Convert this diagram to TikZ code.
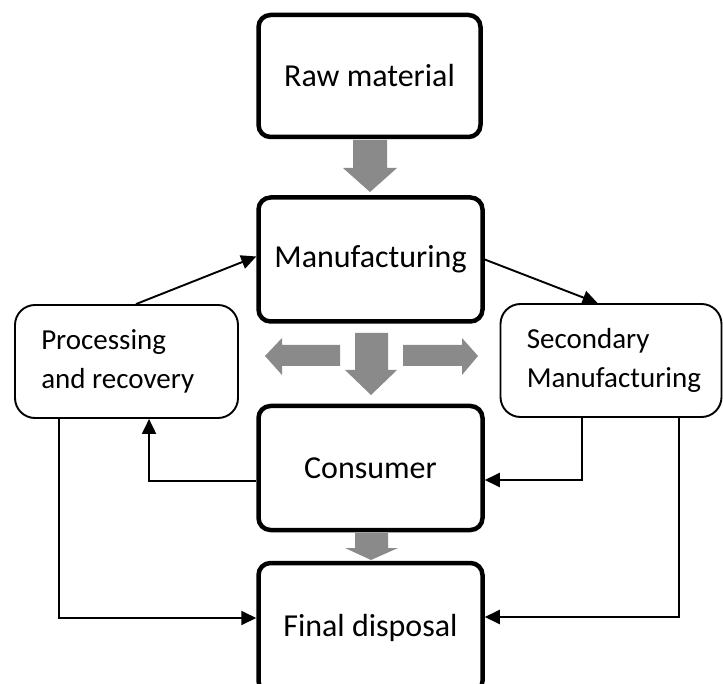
\documentclass[tikz,border=0pt]{standalone}
\usepackage{fontspec}
\setmainfont{Carlito}
\usetikzlibrary{arrows.meta,calc}
\definecolor{arrowgray}{RGB}{138,138,138}
\begin{document}
\begin{tikzpicture}[x=1pt,y=-1pt,
  mainbox/.style={draw=black,line width=4.5pt,rounded corners=12pt,fill=white,
    inner sep=0pt,font=\fontsize{32}{38}\selectfont},
  sidebox/.style={draw=black,line width=1.9pt,rounded corners=20pt,fill=white,
    inner sep=0pt,minimum width=223pt,minimum height=113pt},
  sidetext/.style={anchor=west,align=left,inner sep=0pt,
    font=\fontsize{29}{39}\selectfont},
  conn/.style={line width=1.9pt,-{Triangle[length=15pt,width=14pt]}},
  blockarrow/.style={fill=arrowgray,draw=none}]
\useasboundingbox (0,0) rectangle (723,684);

% main boxes
\node[mainbox,minimum width=222pt,minimum height=122pt] (raw) at (369.5,76) {Raw material};
\node[mainbox,minimum width=224pt,minimum height=124pt] (manu) at (370.5,259.5) {Manufacturing};
\node[mainbox,minimum width=224pt,minimum height=124pt] (cons) at (370.5,468) {Consumer};
\node[mainbox,minimum width=224pt,minimum height=130pt] (fin) at (370.5,628) {Final disposal};

% side boxes
\node[sidebox] (proc) at (126.5,361.5) {};
\node[sidetext] (proctext) at ($(proc.west)+(27,0)$) {Processing\\and recovery};
\node[sidebox,minimum width=221pt] (sec) at (611,360.5) {};
\node[sidetext] (sectext) at ($(sec.west)+(27,0)$) {Secondary\\Manufacturing};

% block arrows
\fill[blockarrow] (353,140) -- (387,140) -- (387,168) -- (397,168) -- (370,192)
  -- (343,168) -- (353,168) -- cycle;
\fill[blockarrow] (355,333) -- (388,333) -- (388,370) -- (397,370) -- (371,395)
  -- (345,370) -- (355,370) -- cycle;
\fill[blockarrow] (340,345) -- (282,345) -- (282,338) -- (265,356) -- (282,375)
  -- (282,366) -- (340,366) -- cycle;
\fill[blockarrow] (403,345) -- (462,345) -- (462,338) -- (478,356) -- (462,375)
  -- (462,366) -- (403,366) -- cycle;
\fill[blockarrow] (355,533) -- (388,533) -- (388,548) -- (398,548) -- (371,560)
  -- (345,548) -- (355,548) -- cycle;

% connectors
\draw[conn] ($(proc.north west)+(122,0)$) -- ($(manu.west)+(0,-3)$);
\draw[conn] (manu.east) -- ($(sec.north west)+(98,0)$);
\draw[conn] ($(cons.west)+(0,13)$) -| ($(proc.south west)+(135,0)$);
\draw[conn] ($(proc.south west)+(45,0)$) |- ($(fin.west)+(0,-10)$);
\draw[conn] ($(sec.south west)+(82,0)$) |- ($(cons.east)+(0,12)$);
\draw[conn] ($(sec.south west)+(179,0)$) |- ($(fin.east)+(0,-11)$);
\end{tikzpicture}
\end{document}
